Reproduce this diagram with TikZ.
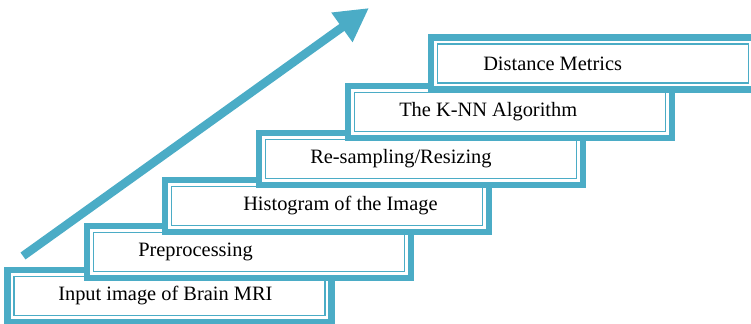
\documentclass[tikz,border=0pt]{standalone}
\usepackage{fontspec}
\setmainfont{Liberation Serif}
\usetikzlibrary{arrows.meta,calc}
\definecolor{stepblue}{RGB}{75,172,198}
\tikzset{
  stage/.style={draw=stepblue, line width=5.2pt, fill=white, minimum width=243pt, minimum height=39pt, inner sep=0pt, outer sep=0pt},
  stage inner/.style={draw=stepblue, line width=1.4pt},
  stage text/.style={anchor=west, inner sep=0pt, font=\fontsize{15.3}{18}\selectfont, text=black},
  rise arrow/.style={draw=stepblue, line width=6.4pt, -{Triangle[length=25pt,width=25.5pt]}}
}
\begin{document}
\begin{tikzpicture}[x=0.75pt,y=0.75pt,yscale=-1,xscale=1]
\useasboundingbox (0,0) rectangle (751,324);

%Shape: Arrow [id:rise]
\draw [rise arrow] (23,256) -- (369,8);

%Shape: Rectangle [id:input]
\node [stage] (input) at (169.5,296) {};
\draw [stage inner] ($(input.north west)+(6.5,6.5)$) rectangle ($(input.south east)+(-6.5,-6.5)$);
%Shape: Rectangle [id:prep]
\node [stage] (prep) at (249,252) {};
\draw [stage inner] ($(prep.north west)+(6.5,6.5)$) rectangle ($(prep.south east)+(-6.5,-6.5)$);
%Shape: Rectangle [id:hist]
\node [stage] (hist) at (327,206) {};
\draw [stage inner] ($(hist.north west)+(6.5,6.5)$) rectangle ($(hist.south east)+(-6.5,-6.5)$);
%Shape: Rectangle [id:resamp]
\node [stage] (resamp) at (421,159) {};
\draw [stage inner] ($(resamp.north west)+(6.5,6.5)$) rectangle ($(resamp.south east)+(-6.5,-6.5)$);
%Shape: Rectangle [id:knn]
\node [stage] (knn) at (510,112) {};
\draw [stage inner] ($(knn.north west)+(6.5,6.5)$) rectangle ($(knn.south east)+(-6.5,-6.5)$);
%Shape: Rectangle [id:dist]
\node [stage] (dist) at (593,63.5) {};
\draw [stage inner] ($(dist.north west)+(6.5,6.5)$) rectangle ($(dist.south east)+(-6.5,-6.5)$);

% Text Node
\node [stage text] (inputtxt) at (58,296) {Input image of Brain MRI};
% Text Node
\node [stage text] (preptxt) at (138,252) {Preprocessing};
% Text Node
\node [stage text] (histtxt) at (243,206) {Histogram of the Image};
% Text Node
\node [stage text] (resamptxt) at (310,159) {Re-sampling/Resizing};
% Text Node
\node [stage text] (knntxt) at (399,112) {The K-NN Algorithm};
% Text Node
\node [stage text] (disttxt) at (483,63.5) {Distance Metrics};

\end{tikzpicture}
\end{document}
